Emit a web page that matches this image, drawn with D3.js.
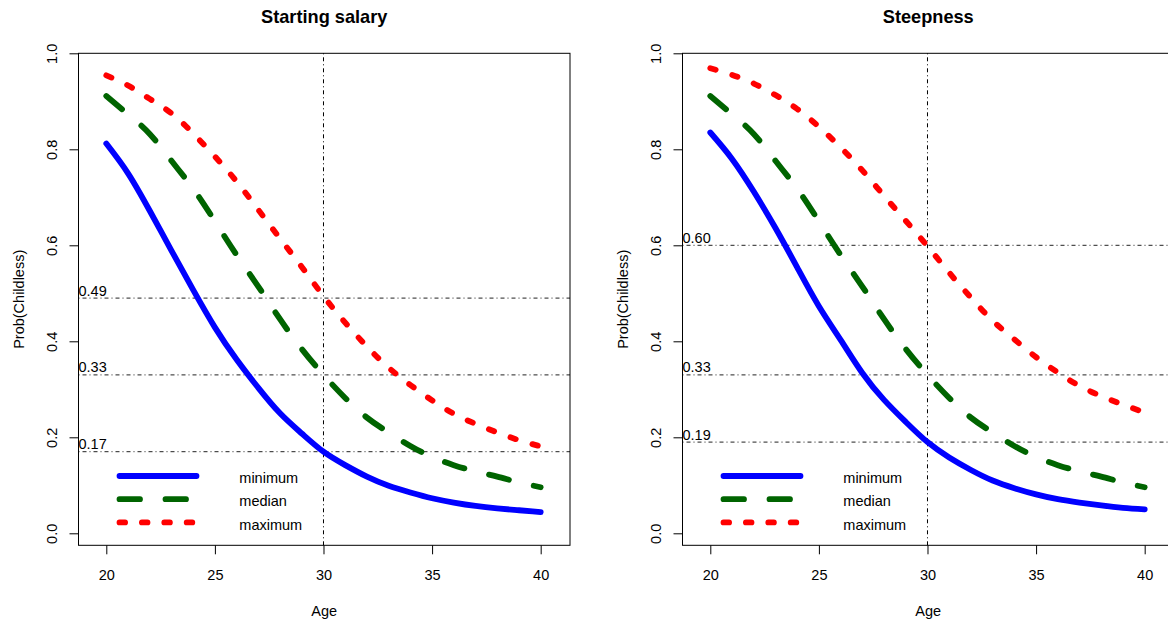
<!DOCTYPE html>
<html>
<head>
<meta charset="utf-8">
<script src="https://cdn.jsdelivr.net/npm/d3@7"></script>
<style>
  body { margin: 0; background: #fff; }
  text { font-family: "Liberation Sans", Arial, sans-serif; fill: #000; }
</style>
</head>
<body>
<div id="chart"></div>
<script>
// ages on the x axis
const ages = [20, 21, 22, 23, 24, 25, 26, 27, 28, 29, 30, 31, 32, 33, 34, 35, 36, 37, 38, 39, 40];

// Starting salary panel
const salaryMin = [0.812, 0.750, 0.672, 0.589, 0.507, 0.429, 0.362, 0.303, 0.250, 0.208, 0.170,
                   0.142, 0.118, 0.099, 0.085, 0.073, 0.064, 0.057, 0.052, 0.048, 0.044];
const salaryMedian = [0.911, 0.873, 0.832, 0.776, 0.718, 0.650, 0.580, 0.514, 0.446, 0.384, 0.330,
                      0.282, 0.241, 0.210, 0.182, 0.159, 0.142, 0.129, 0.118, 0.106, 0.096];
const salaryMax = [0.954, 0.933, 0.905, 0.875, 0.833, 0.785, 0.733, 0.674, 0.614, 0.555, 0.494,
                   0.439, 0.389, 0.345, 0.309, 0.277, 0.249, 0.228, 0.210, 0.194, 0.181];
const salaryRefs = [0.49, 0.33, 0.17];

// Steepness panel
const steepMin = [0.835, 0.780, 0.712, 0.636, 0.554, 0.473, 0.403, 0.334, 0.278, 0.232, 0.190,
                  0.158, 0.132, 0.110, 0.094, 0.081, 0.071, 0.064, 0.058, 0.053, 0.050];
const steepMedian = salaryMedian;
const steepMax = [0.969, 0.955, 0.937, 0.913, 0.884, 0.847, 0.804, 0.756, 0.703, 0.651, 0.598,
                  0.543, 0.491, 0.443, 0.404, 0.367, 0.335, 0.307, 0.286, 0.268, 0.252];
const steepRefs = [0.60, 0.33, 0.19];

const refAge = 30;
const xTicks = [20, 25, 30, 35, 40];
const yTicks = [0, 0.2, 0.4, 0.6, 0.8, 1.0];
const seriesNames = ['minimum', 'median', 'maximum'];
const titles = ['Starting salary', 'Steepness'];

const W = 1168, H = 621;
const box = { left: 78.5, top: 53.3, width: 491.5, height: 492 };
const panelOffset = 604;
const fontSize = 14.5;

const styles = [
    { color: '#0000ff', dash: null },
    { color: '#006400', dash: '20.5,25.5' },
    { color: '#ff0000', dash: '5.6,17.4' }
];
const lw = 5.8;
const refDash = '1,3,4,3';

const svg = d3.select('#chart').append('svg')
    .attr('width', W)
    .attr('height', H)
    .attr('viewBox', `0 0 ${W} ${H}`);

svg.append('rect').attr('width', W).attr('height', H).attr('fill', '#fff');

function drawPanel(index, title, series, refs) {
    const g = svg.append('g').attr('transform', `translate(${index * panelOffset},0)`);

    const x = d3.scaleLinear().domain([18.72, 41.35]).range([box.left, box.left + box.width]);
    const y = d3.scaleLinear().domain([-0.025, 1.0]).range([box.top + box.height, box.top]);

    // reference lines
    g.append('line')
        .attr('x1', x(refAge)).attr('x2', x(refAge))
        .attr('y1', box.top).attr('y2', box.top + box.height)
        .attr('stroke', '#000').attr('stroke-width', 1)
        .attr('stroke-dasharray', refDash);

    g.selectAll('line.ref')
        .data(refs)
        .join('line')
        .attr('class', 'ref')
        .attr('x1', box.left).attr('x2', box.left + box.width)
        .attr('y1', d => y(d)).attr('y2', d => y(d))
        .attr('stroke', '#222').attr('stroke-width', 1)
        .attr('stroke-dasharray', refDash);

    g.selectAll('text.ref')
        .data(refs)
        .join('text')
        .attr('class', 'ref')
        .attr('x', box.left)
        .attr('y', d => y(d) - 2.5)
        .attr('font-size', fontSize)
        .text(d => d.toFixed(2));

    // curves
    const line = d3.line()
        .x((d, i) => x(ages[i]))
        .y(d => y(d))
        .curve(d3.curveNatural);

    series.forEach((vals, i) => {
        g.append('path')
            .attr('d', line(vals))
            .attr('fill', 'none')
            .attr('stroke', styles[i].color)
            .attr('stroke-width', lw)
            .attr('stroke-linecap', 'round')
            .attr('stroke-linejoin', 'round')
            .attr('stroke-dasharray', styles[i].dash);
    });

    // box
    g.append('rect')
        .attr('x', box.left).attr('y', box.top)
        .attr('width', box.width).attr('height', box.height)
        .attr('fill', 'none').attr('stroke', '#000').attr('stroke-width', 1);

    // axes
    const xAxis = g.append('g')
        .attr('transform', `translate(0,${box.top + box.height})`)
        .call(d3.axisBottom(x).tickValues(xTicks).tickSize(9).tickPadding(15.4).tickFormat(d3.format('d')));
    xAxis.select('.domain').remove();
    xAxis.selectAll('text').attr('font-size', fontSize).attr('font-family', null);

    const yAxis = g.append('g')
        .attr('transform', `translate(${box.left},0)`)
        .call(d3.axisLeft(y).tickValues(yTicks).tickSize(9).tickFormat(d3.format('.1f')));
    yAxis.select('.domain').remove();
    yAxis.selectAll('text')
        .attr('x', null).attr('dy', null)
        .attr('text-anchor', 'middle')
        .attr('transform', 'translate(-21.6,0) rotate(-90)')
        .attr('font-size', fontSize).attr('font-family', null);

    // titles and labels
    const cx = box.left + box.width / 2;
    g.append('text')
        .attr('x', cx).attr('y', 23.4)
        .attr('text-anchor', 'middle')
        .attr('font-weight', 'bold')
        .attr('font-size', 18.2)
        .text(title);

    g.append('text')
        .attr('x', cx).attr('y', 616)
        .attr('text-anchor', 'middle')
        .attr('font-size', fontSize)
        .text('Age');

    g.append('text')
        .attr('transform', `translate(23.5,${box.top + box.height / 2}) rotate(-90)`)
        .attr('text-anchor', 'middle')
        .attr('font-size', fontSize)
        .text('Prob(Childless)');

    // legend
    const legend = g.append('g').attr('transform', `translate(${box.left},476)`);
    seriesNames.forEach((name, i) => {
        const ly = i * 23.2;
        legend.append('line')
            .attr('x1', 41).attr('x2', 118)
            .attr('y1', ly).attr('y2', ly)
            .attr('stroke', styles[i].color)
            .attr('stroke-width', lw)
            .attr('stroke-linecap', 'round')
            .attr('stroke-dasharray', i === 2 ? '5.6,16.8' : styles[i].dash);
        legend.append('text')
            .attr('x', 160.8).attr('y', ly)
            .attr('dy', '0.5em')
            .attr('font-size', fontSize)
            .text(name);
    });
}

drawPanel(0, titles[0], [salaryMin, salaryMedian, salaryMax], salaryRefs);
drawPanel(1, titles[1], [steepMin, steepMedian, steepMax], steepRefs);
</script>
</body>
</html>
